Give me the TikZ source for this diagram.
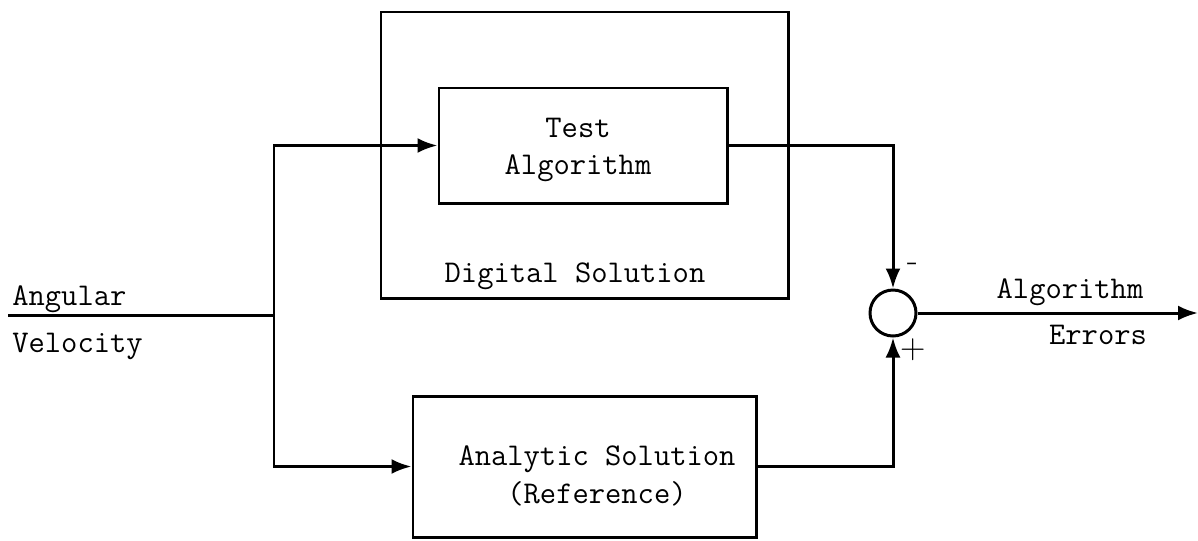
\documentclass[tikz,border=0pt]{standalone}
\usepackage{fontspec}
\usetikzlibrary{arrows.meta,positioning}
\tikzset{
  sigln/.style={line width=1.7pt, line join=miter},
  flowln/.style={sigln, -{Latex[length=4mm,width=3mm]}},
  blockbox/.style={draw, line width=1.7pt, inner sep=0pt},
  sumnode/.style={draw, circle, line width=1.7pt, minimum size=9.2mm, inner sep=0pt},
  lbl/.style={font=\ttfamily\fontsize{18}{21.5}\selectfont, align=center, inner sep=0pt},
  signlbl/.style={font=\fontsize{20}{22}\selectfont, inner sep=0pt},
}

\begin{document}
\begin{tikzpicture}[x=0.2mm,y=-0.2mm]
  \useasboundingbox (0,0) rectangle (1198,540);
  % frame round the digital side
  \node[blockbox, minimum width=81.4mm, minimum height=57.2mm] (digital) at (584.5,155) {};
  \node[lbl, anchor=base] (diglbl) at (575,282) {Digital Solution};
  % the two blocks
  \node[blockbox, minimum width=57.6mm, minimum height=23mm] (test) at (583,145.5) {};
  \node[lbl] (testtxt) at (578,150) {Test\\Algorithm};
  \node[blockbox, minimum width=68.6mm, minimum height=28.2mm] (ana) at (584.5,466.5) {};
  \node[lbl] (anatxt) at (597,476) {Analytic Solution\\(Reference)};
  \node[sumnode] (sum) at (893,313) {};
  % input and branch point
  \coordinate (in) at (8,315);
  \coordinate (split) at (274,315);
  \node[lbl, anchor=base west] (angl) at (12,305) {Angular};
  \node[lbl, anchor=base west] (vell) at (12,352) {Velocity};
  \draw[sigln] (in) -- (split);
  \draw[flowln] (split) |- (test.west);
  \draw[flowln] (split) |- (ana.west);
  % both results into the comparator
  \draw[flowln] (test.east) -| (sum.north);
  \draw[flowln] (ana.east) -| (sum.south);
  \node[signlbl] (minus) at (913,267) {-};
  \node[signlbl] (plus) at (913,350) {+};
  % difference out
  \coordinate (out) at (1198,313);
  \draw[flowln] (sum.east) -- (out);
  \node[lbl, anchor=base] (errl1) at (1070,298) {Algorithm};
  \node[lbl, anchor=base] (errl2) at (1098,344) {Errors};
\end{tikzpicture}
\end{document}
